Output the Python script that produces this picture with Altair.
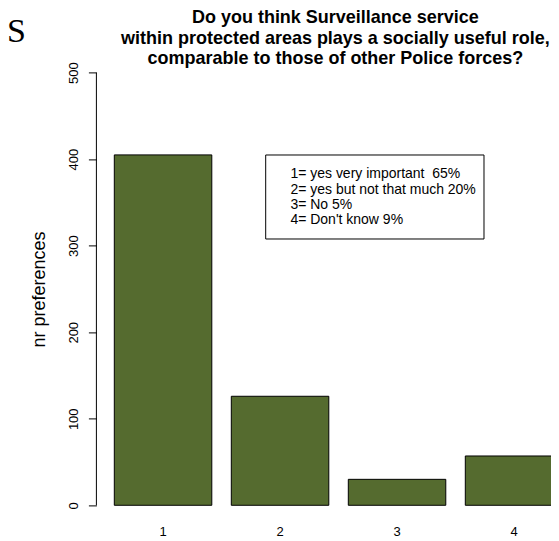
import altair as alt
import pandas as pd

# ---- data ----
categories = ["1", "2", "3", "4"]
counts = [405, 126, 30, 57]
y_ticks = [0, 100, 200, 300, 400, 500]
title_lines = [
    "Do you think Surveillance service\u00a0",
    "within protected areas plays a socially useful role,",
    "\u00a0\u00a0comparable to those of other Police forces?",
]
legend_lines = [
    "1= yes very important\u00a0 65%",
    "2= yes but not that much 20%",
    "3= No 5%",
    "4= Don't know 9%",
]
y_title = "nr preferences"
corner_letter = "S"

df = pd.DataFrame({"cat": categories, "n": counts})
one = pd.DataFrame({"k": [0]})

FONT = "Liberation Sans"
W = 454.6   # plot width (last bar is clipped at the right edge)
H = 467.2   # plot height

x_scale = alt.Scale(domain=categories, range=[0, 484.3],
                    paddingInner=0.1667, paddingOuter=0.153)
y_scale = alt.Scale(domain=[-20, 520], nice=False, zero=False)

bars = alt.Chart(df).mark_bar(
    color="#556B2F", stroke="black", strokeWidth=1, clip=True
).encode(
    x=alt.X("cat:N", scale=x_scale, sort=categories,
            axis=alt.Axis(title=None, domain=False, ticks=False, grid=False,
                          labelAngle=0, labelBaseline="alphabetic",
                          labelPadding=12.8, labelFontSize=13,
                          labelFont=FONT, labelColor="black")),
    y=alt.Y("n:Q", scale=y_scale,
            axis=alt.Axis(values=y_ticks, domain=False, grid=False,
                          tickSize=8, tickColor="black", tickWidth=1,
                          labelAngle=270, labelAlign="center",
                          labelBaseline="alphabetic", labelPadding=11,
                          labelFontSize=13, labelFont=FONT, labelColor="black",
                          title=y_title, titleFontSize=18, titleFont=FONT,
                          titleFontWeight="normal", titleColor="black",
                          titleAngle=270, titleX=-57.4, titleY=233.6,
                          titleAlign="center", titleBaseline="middle")),
)

axis_line = alt.Chart(one).mark_rule(color="black", strokeWidth=1).encode(
    x=alt.value(0),
    y=alt.datum(y_ticks[0], scale=y_scale),
    y2=alt.datum(y_ticks[-1]),
)

legend_box = alt.Chart(one).mark_rect(
    fill="white", stroke="black", strokeWidth=1
).encode(
    x=alt.value(169.3), x2=alt.value(387.6),
    y=alt.value(99.6), y2=alt.value(183.6),
)

legend_text = alt.Chart(one).mark_text(
    text=legend_lines, align="left", baseline="alphabetic",
    fontSize=14, font=FONT, lineHeight=15.4, color="black"
).encode(x=alt.value(194), y=alt.value(122.9))

title_text = alt.Chart(one).mark_text(
    text=title_lines, align="center", baseline="alphabetic",
    fontSize=18, font=FONT, fontWeight="bold", lineHeight=20.6, color="black"
).encode(x=alt.value(239), y=alt.value(-32.1))

letter = alt.Chart(one).mark_text(
    text=corner_letter, align="left", baseline="alphabetic",
    fontSize=34, font="Liberation Serif", color="black"
).encode(x=alt.value(-89.4), y=alt.value(-13.1))

chart = alt.layer(
    bars, axis_line, legend_box, legend_text, title_text, letter
).properties(
    width=W, height=H, background="white",
    autosize=alt.AutoSizeParams(type="none"),
    padding={"left": 88.4, "top": 47.4, "right": 0, "bottom": 22},
).configure_view(strokeWidth=0)

chart.save("out.html", embed_options={"renderer": "svg", "actions": False})
